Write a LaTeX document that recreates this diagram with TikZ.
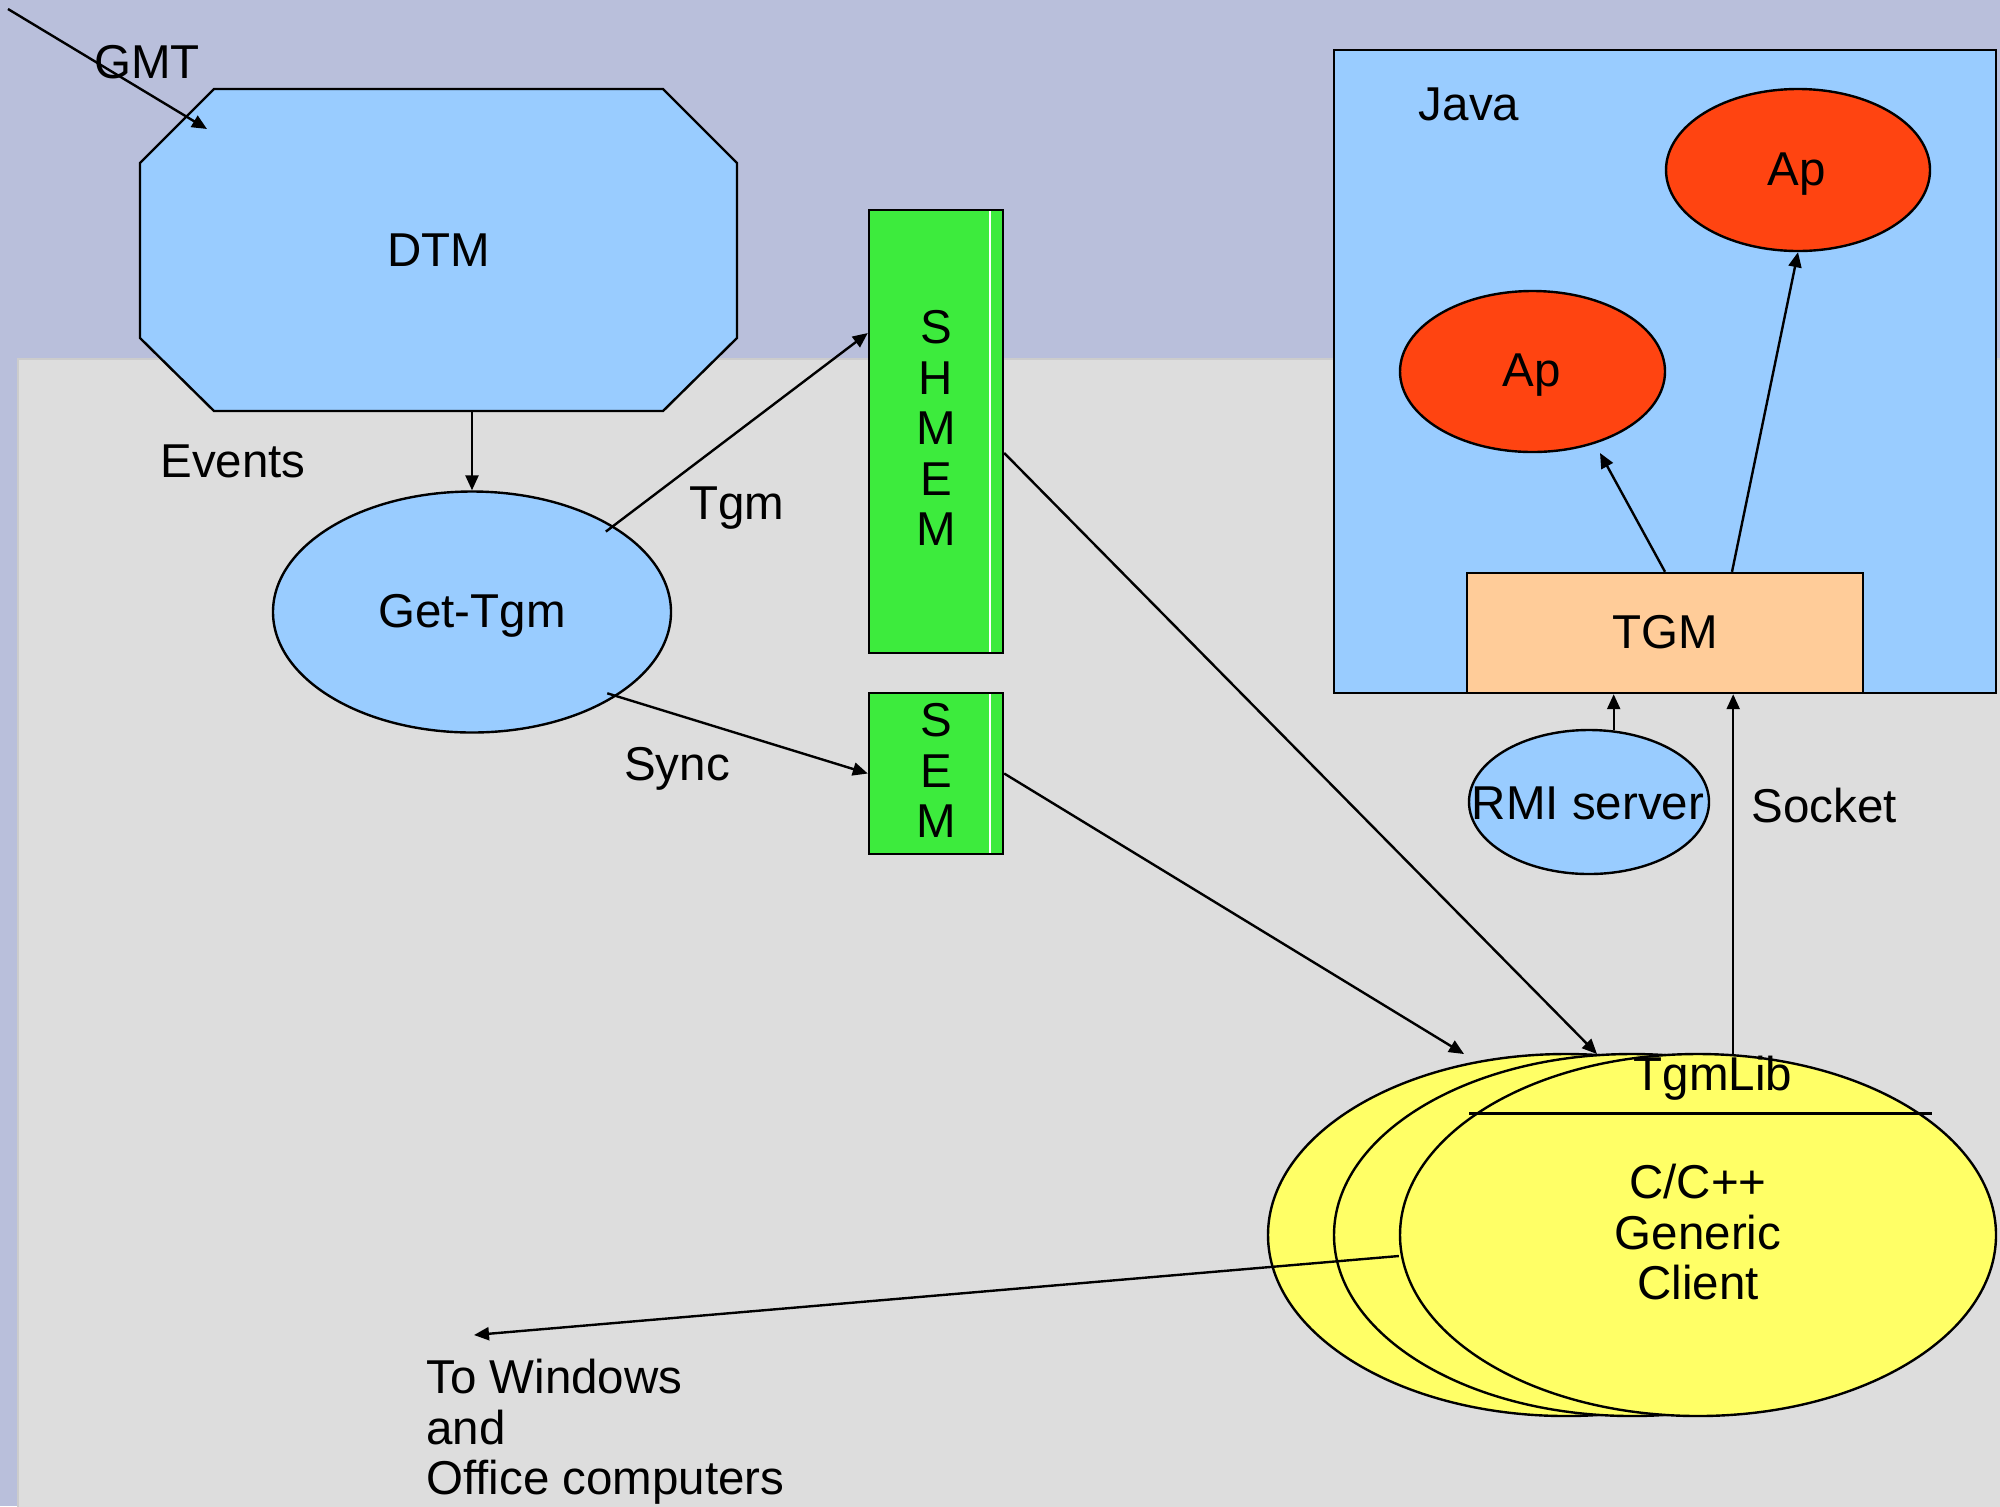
\documentclass[tikz,border=0pt]{standalone}
\usepackage{fontspec}
\setmainfont{Liberation Sans}
\usetikzlibrary{shapes.geometric, arrows.meta, calc}

\definecolor{sky}{RGB}{185,191,219}
\definecolor{panel}{RGB}{221,221,221}
\definecolor{lblue}{RGB}{153,204,255}
\definecolor{shm}{RGB}{61,235,61}
\definecolor{apred}{RGB}{255,68,17}
\definecolor{peach}{RGB}{255,204,153}
\definecolor{lyellow}{RGB}{255,255,102}

\begin{document}
\begin{tikzpicture}[x=0.5pt,y=-0.5pt,
  every node/.style={font=\fontsize{23.75}{25.25}\selectfont, inner sep=0pt},
  outl/.style={draw=black, line width=1.2pt},
  conn/.style={draw=black, line width=1.2pt, -{Triangle[length=7.5pt,width=6.5pt]}},
  oval/.style={ellipse, outl},
  membox/.style={rectangle, outl, fill=shm, minimum width=67pt},
  lab/.style={anchor=base}
]
\useasboundingbox (0,0) rectangle (2000,1506);
% backgrounds
\fill[sky] (0,0) rectangle (2000,1506);
\filldraw[fill=panel, draw=black!20, line width=1pt] (18,359) rectangle (2010,1516);

% DTM process
\filldraw[fill=lblue, outl] (214,89) -- (663,89) -- (737,163) -- (737,338) -- (663,411)
  -- (214,411) -- (140,338) -- (140,163) -- cycle;
\node (dtm) at (438.5,250) {DTM};
\coordinate (dtmS) at (472,411);
\node[lab] (gmtlab) at (147,78) {GMT};
\coordinate (gmtA) at (8,9);
\coordinate (gmtB) at (207,129);
\draw[conn] (gmtA) -- (gmtB);

\node[lab] (events) at (233,477) {Events};
\node[oval, fill=lblue, minimum width=199pt, minimum height=120.5pt] (gettgm) at (472,612) {};
\node[lab] (gettgmlab) at (472,627) {Get-Tgm};
\draw[conn] (dtmS) -- (gettgm.north);

% shared memory and semaphore
\node[membox, minimum height=221.5pt] (shmem) at (936,431.5) {};
\node[align=center] (shmemlab) at (936,428) {S\\H\\M\\E\\M};
\node[membox, minimum height=80.5pt] (sem) at (936,773.5) {};
\node[align=center] (semlab) at (936,770.5) {S\\E\\M};
\draw[white, line width=0.6pt] ([xshift=-7.1pt,yshift=-1.2pt]shmem.north east) -- ([xshift=-7.1pt,yshift=1.2pt]shmem.south east);
\draw[white, line width=0.6pt] ([xshift=-7.1pt,yshift=-1.2pt]sem.north east) -- ([xshift=-7.1pt,yshift=1.2pt]sem.south east);

\draw[conn] ($(gettgm.center)!0.94!(gettgm.31)$) -- ([yshift=49.25pt]shmem.west);
\node[lab] (tgmlab) at (737,519) {Tgm};
\draw[conn] ($(gettgm.center)!0.95!(gettgm.-31.6)$) -- (sem.west);
\node[lab] (synclab) at (677,780) {Sync};

% Java side
\node[rectangle, outl, fill=lblue, minimum width=331pt, minimum height=321.5pt] (java) at (1665,371.5) {};
\node[lab] (javalab) at (1469,120) {Java};
\node[oval, fill=apred, minimum width=132pt, minimum height=81pt] (ap1) at (1798,170) {};
\node[lab] (ap1lab) at (1797,185) {Ap};
\node[oval, fill=apred, minimum width=132.5pt, minimum height=80.5pt] (ap2) at (1532.5,371.5) {};
\node[lab] (ap2lab) at (1532,386) {Ap};
\node[rectangle, outl, fill=peach, minimum width=198pt, minimum height=60pt] (tgm) at (1665,633) {};
\node[lab] (tgmboxlab) at (1665,648) {TGM};
\coordinate (ap2tip) at (1600,453);
\draw[conn] (tgm.north) -- (ap2tip);
\draw[conn] ([xshift=33.5pt]tgm.north) -- (ap1.south);

\node[oval, fill=lblue, minimum width=120pt, minimum height=72pt] (rmi) at (1589,802) {};
\node[lab] (rmilab) at (1588,819) {RMI server};
\draw[conn] (rmi.71) -- (rmi.71 |- tgm.south);

% C/C++ clients
\node[oval, fill=lyellow, minimum width=298pt, minimum height=181pt] (cli1) at (1566,1235) {};
\node[oval, fill=lyellow, minimum width=298pt, minimum height=181pt] (cli2) at (1632,1235) {};
\node[oval, fill=lyellow, minimum width=298pt, minimum height=181pt] (cli3) at (1698,1235) {};
\draw[outl] (1469,1113.5) -- (1932,1113.5);
\node[lab] (tgmliblab) at (1713,1090) {TgmLib};
\node[align=center] (cc) at (1698,1232) {C/C++\\Generic\\Client};

\draw[conn] (cli3.79.3) -- (cli3.79.3 |- tgm.south);
\node[lab] (socketlab) at (1824,822) {Socket};

\coordinate (shmTip) at (1597,1054);
\draw[conn] ([yshift=-10.75pt]shmem.east) -- (shmTip);
\coordinate (semTip) at (1464,1054);
\draw[conn] (sem.east) -- (semTip);

\coordinate (winTip) at (474,1335);
\draw[conn] ([yshift=-10.5pt]cli3.west) -- (winTip);
\node[align=left, anchor=north west] (win) at (426,1359) {To Windows\\and\\Office computers};
\end{tikzpicture}
\end{document}
